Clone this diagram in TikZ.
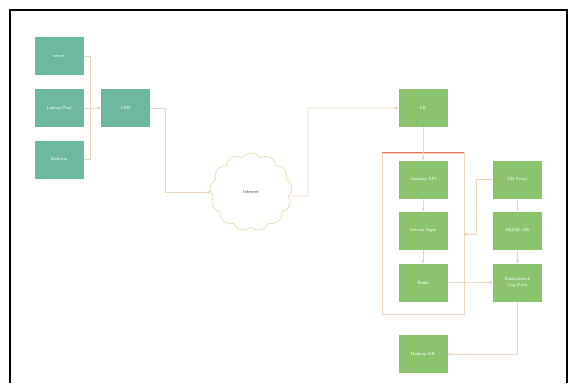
\documentclass[tikz,border=0pt]{standalone}
\usetikzlibrary{shapes.symbols,arrows.meta,fit}
\definecolor{tealbox}{RGB}{108,184,160}
\definecolor{greenbox}{RGB}{140,196,110}
\definecolor{wire}{RGB}{236,214,188}
\definecolor{tip}{RGB}{140,125,105}
\definecolor{redline}{RGB}{228,120,100}
\definecolor{cloudline}{RGB}{232,222,175}
\tikzset{
  x=1pt, y=-1pt,
  box/.style={minimum width=49pt, minimum height=38pt, inner sep=1pt,
    text=white, font=\fontsize{4.5}{5.5}\selectfont\sffamily, align=center},
  tbox/.style={box, fill=tealbox},
  gbox/.style={box, fill=greenbox},
  conn/.style={draw=wire, line width=0.6pt},
  arr/.style={conn, -{Stealth[length=3.5pt,width=3pt,fill=tip]}},
}
\begin{document}
\begin{tikzpicture}
\useasboundingbox (0,0) rectangle (569,383);
\fill[white] (0,0) rectangle (569,383);
% frame
\draw[line width=2pt] (10,383) -- (10,10) -- (567,10) -- (567,383);

% clients
\node[tbox] (srv) at (59,56) {server};
\node[tbox] (lap) at (59,108) {Laptop/Pad};
\node[tbox] (dsk) at (59,159.5) {Desktop};
\node[tbox] (cdn) at (125.5,108) {CDN};

% internet
\node[cloud, cloud puffs=13, cloud puff arc=110, aspect=1.05, draw=cloudline,
      line width=0.7pt, minimum width=82pt, minimum height=78pt,
      font=\fontsize{4.5}{5.5}\selectfont\sffamily, text=black!70] (net) at (251,192) {Internet};

% server side
\node[gbox] (lb) at (423,108) {LB};
\node[draw=wire, line width=0.6pt, minimum width=82pt, minimum height=161pt] (grp) at (423,233.5) {};
\draw[draw=redline, line width=0.7pt] (grp.north west) -- (grp.north east);
\node[gbox] (gw) at (423,179.5) {Gateway API};
\node[gbox] (svc) at (423,230.5) {Service Apps};
\node[gbox] (rds) at (423,282.5) {Redis};
\node[gbox] (dbp) at (517.5,179.5) {DB Proxy};
\node[gbox] (sql) at (517.5,230.5) {MySQL DB};
\node[gbox] (es) at (517.5,282.5) {Elasticsearch\\Log Data};
\node[gbox] (hdb) at (423,354) {Hadoop DB};

% client fan-in
\coordinate (jn) at (90,108);
\draw[conn] (srv.east) -| (jn);
\draw[conn] (dsk.east) -| (jn);
\draw[conn] (lap.east) -- (jn);
\draw[arr] (jn) -- (cdn.west);

% through the internet
\coordinate (c1) at (165,108);
\draw[arr] (cdn.east) -- (c1) |- (net.west);
\coordinate (c2) at (308,196);
\draw[arr] (net.east) ++(0,4) coordinate (nx) (nx) -- (c2) |- (lb.west);

% inside
\draw[arr] (lb.south) -- (gw.north);
\draw[arr] (gw.south) -- (svc.north);
\draw[arr] (svc.south) -- (rds.north);
\draw[arr] (dbp.south) -- (sql.north);
\draw[arr] (sql.south) -- (es.north);
\draw[arr] (rds.east) -- (es.west);
\coordinate (c3) at (476,179.5);
\coordinate (gin) at (464,234);
\draw[arr] (dbp.west) -- (c3) |- (gin);
\draw[arr] (es.south) |- (hdb.east);
\end{tikzpicture}
\end{document}
